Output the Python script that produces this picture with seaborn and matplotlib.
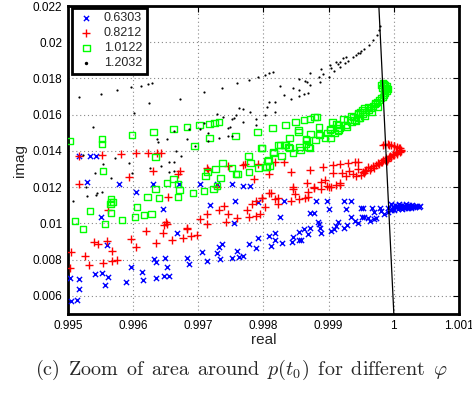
import matplotlib
matplotlib.use("Agg")
import matplotlib.pyplot as plt
import seaborn as sns
import numpy as np

# ---------------- data ----------------
labels = ["0.6303", "0.8212", "1.0122", "1.2032"]

blue_x = [0.99517,0.99534,0.99543,0.99529,0.99578,0.99605,0.99631,0.99671,0.99703,0.99729,0.99752,0.99551,0.99646,0.9956,0.99503,0.99517,0.99542,0.99552,0.99562,0.99517,0.99557,0.99505,0.99514,0.99589,0.99597,0.99614,0.99615,0.99632,0.99635,0.99648,0.99635,0.99649,0.99652,0.99655,0.99668,0.99682,0.99686,0.99705,0.99714,0.99718,0.99728,0.99732,0.99737,0.99734,0.99751,0.9976,0.99757,0.99763,0.99769,0.99778,0.99788,0.99792,0.99792,0.99768,0.9978,0.99754,0.99831,0.9988,0.99898,0.99923,0.99934,0.99825,0.99877,0.999,0.99926,0.99949,0.99951,0.99934,0.9994,0.99945,0.99928,0.99923,0.99914,0.99911,0.99908,0.99903,0.99885,0.99886,0.99888,0.99871,0.99869,0.99862,0.99854,0.99855,0.99858,0.99845,0.99843,0.99829,0.99818,0.99817,0.99809,0.99811,0.99872,0.99883,0.99952,0.99966,0.99978,0.99991,0.99969,0.9998,0.99954,0.9996,0.99969,0.99963,0.99972,0.99985,0.99991,0.99995,
          0.99996,0.99998,0.99997,1.00002,1.00003,1.00001,1.00008,1.00009,1.00007,1.00013,1.00014,1.00012,1.00018,1.00019,1.00017,1.00023,1.00024,1.00022,1.00028,1.00029,1.00027,1.00032,1.00033,1.00036,1.00038,1.0004,1.00005,1.00016,1.00026,1.00011]
blue_y = [0.01372,0.01372,0.01372,0.01229,0.01218,0.01174,0.01218,0.01218,0.01218,0.01218,0.01218,0.01036,0.0108,0.00881,0.0070,0.00694,0.00721,0.00727,0.00705,0.00639,0.00661,0.00572,0.00578,0.00677,0.0076,0.00732,0.00688,0.00804,0.00788,0.0071,0.0070,0.0081,0.0076,0.0071,0.00948,0.0081,0.00777,0.00843,0.00793,0.01102,0.00837,0.0087,0.00887,0.00804,0.0081,0.00848,0.01124,0.00815,0.00821,0.00887,0.00865,0.0092,0.01119,0.01207,0.01207,0.01003,0.01124,0.01124,0.01124,0.01124,0.01124,0.01036,0.01058,0.0108,0.0108,0.01086,0.01036,0.01036,0.01014,0.01003,0.00992,0.00975,0.01008,0.00986,0.0097,0.00959,0.00997,0.00975,0.00948,0.00975,0.00942,0.0097,0.00953,0.00909,0.00909,0.00925,0.00898,0.00892,0.00948,0.00909,0.00931,0.00876,0.01058,0.01008,0.01086,0.01086,0.01086,0.01086,0.01063,0.01069,0.01036,0.0103,0.01025,0.01014,0.0103,0.01053,0.01063,0.01075,
          0.01106,0.01092,0.01078,0.01104,0.01089,0.01076,0.01107,0.01094,0.01081,0.01102,0.01088,0.01079,0.01106,0.01093,0.01083,0.01101,0.01089,0.01084,0.01104,0.01092,0.01086,0.01099,0.01091,0.01096,0.01093,0.01097,0.01098,0.01097,0.01096,0.01085]

red_x = [0.99517,0.99552,0.99582,0.99605,0.99623,0.99637,0.99643,0.99517,0.99594,0.99631,0.99672,0.99669,0.99654,0.99715,0.99729,0.99745,0.99714,0.99769,0.99791,0.99785,0.99771,0.99809,0.99818,0.99831,0.99842,0.99871,0.99891,0.99906,0.99918,0.99929,0.9994,0.99945,0.99866,0.99877,0.99888,0.99895,0.99898,0.99903,0.99918,0.99906,0.9992,0.99931,0.99945,0.99952,0.99954,0.9996,0.99963,0.99969,0.99975,0.9998,0.99983,0.99988,0.99992,0.99998,1.00005,1.00011,1.00008,1.0,0.99992,
         0.99972,0.99977,0.99982,0.99986,0.99991,0.99995,1.0,1.00005,1.00009,1.00011,1.00009,1.00005,1.0,0.99995,0.99991,0.99986,0.99983,0.99998,1.00003,0.99994,0.99989,0.99965,0.99968,0.99958,0.99955,0.99949,0.99942,0.99937,0.99926,
         0.99562,0.9954,0.99546,0.9956,0.99568,0.99505,0.99526,0.99532,0.99503,0.99554,0.99568,0.99575,0.99597,0.99605,0.9962,0.99635,0.99648,0.99646,0.99651,0.99652,0.9966,0.99677,0.99682,0.99689,0.99698,0.99702,0.99714,0.99714,0.99731,0.9974,0.99745,0.99742,0.9976,0.99683,0.99775,0.99777,0.99783,0.99788,0.99789,0.99794,0.99797,0.99809,0.99818,0.99823,0.99802,0.99846,0.99848,0.99842,0.99854,0.99863,0.99869,0.99868,0.99878,0.99888,0.999,0.99912,0.99918,0.99811,0.99822,0.99845,0.99798]
red_y = [0.01372,0.01378,0.01383,0.01389,0.01389,0.01389,0.01389,0.01218,0.01257,0.0129,0.0129,0.01273,0.01146,0.01295,0.01201,0.01317,0.01306,0.01323,0.01328,0.01245,0.01328,0.01273,0.01339,0.01339,0.01284,0.01295,0.01312,0.01323,0.01328,0.01334,0.01339,0.01339,0.01223,0.01196,0.01229,0.0124,0.01207,0.01201,0.01223,0.01279,0.01279,0.0129,0.013,0.01284,0.01279,0.01312,0.01295,0.01306,0.01334,0.01339,0.0135,0.01361,0.01367,0.01378,0.01389,0.014,0.01417,0.01428,0.01433,
         0.01323,0.01328,0.01339,0.0135,0.01356,0.01367,0.01378,0.01383,0.01394,0.01406,0.01417,0.01422,0.01428,0.01433,0.01439,0.01439,0.01433,0.01383,0.01394,0.01372,0.01345,0.01306,0.01317,0.01295,0.0129,0.01268,0.01262,0.01273,0.01262,
         0.01074,0.00898,0.00887,0.00903,0.00848,0.00843,0.00821,0.00771,0.00754,0.00782,0.00793,0.00799,0.00914,0.0087,0.00959,0.00892,0.00992,0.00948,0.01008,0.00997,0.00909,0.0092,0.0097,0.00931,0.00937,0.01025,0.01053,0.00997,0.01074,0.01097,0.01053,0.01008,0.0103,0.00975,0.01074,0.01036,0.01108,0.01124,0.01041,0.01053,0.01141,0.01168,0.01135,0.01108,0.01091,0.0119,0.01163,0.01124,0.01135,0.01141,0.01174,0.01146,0.01201,0.0119,0.01201,0.01212,0.01212,0.01168,0.01141,0.01201,0.01141]

green_x = [0.99503,0.99552,0.99552,0.99554,0.99598,0.99631,0.99634,0.99662,0.99683,0.99702,0.99717,0.99725,0.99732,0.99717,0.99694,0.99737,0.99726,0.99714,0.99711,0.99734,0.99752,0.99758,0.99652,0.99662,0.99669,0.99671,0.99692,0.99709,0.99723,0.99729,0.99634,0.99622,0.99566,0.9964,0.99511,0.99523,0.99534,0.99557,0.99565,0.99566,0.99569,0.99566,0.99583,0.99603,0.99606,0.99617,0.99628,0.99669,
           0.99814,0.99834,0.99849,0.99862,0.99871,0.99878,0.99882,0.99854,0.9984,0.99865,0.99872,0.99885,0.99886,0.99894,0.99906,0.99912,0.99917,0.99923,0.99929,0.99934,0.99945,0.99948,0.99951,0.99926,0.99935,0.99942,0.99948,0.99898,0.99903,0.99909,0.99914,0.9988,0.99871,0.99865,0.99855,0.99845,0.99834,0.99825,0.9984,0.99828,0.99815,0.99806,0.99803,0.99809,0.99798,
           0.99757,0.99791,0.99797,0.99777,0.9978,0.99778,0.9976,0.99792,0.99805,0.99808,0.99815,0.99823,0.99832,0.99838,0.99857,0.99869,0.99854,0.99866,0.99885,0.99903,0.99902,0.99914,0.99915,0.99928,0.99938,0.99945,0.99954,0.9996,0.99968,0.99972,0.99977,0.99983,0.99986,0.99988,0.99986,0.99985,
           0.99957,0.99962,0.99965,0.99971,0.99974,0.9998,0.99985,0.99989,0.99991,0.99989,0.99983,0.9998,0.99982,0.99985,0.99975,0.99966,0.99955,0.99952,0.99946,0.9994]
green_y = [0.01455,0.01466,0.01439,0.0129,0.01488,0.01505,0.01367,0.01521,0.01532,0.01543,0.01549,0.01554,0.0156,0.01472,0.01428,0.01334,0.013,0.01284,0.01262,0.01251,0.01306,0.01273,0.01223,0.01245,0.01218,0.01185,0.01168,0.01179,0.0119,0.01207,0.0119,0.01146,0.01135,0.01141,0.01014,0.0097,0.01069,0.00997,0.01108,0.01119,0.01119,0.01058,0.0102,0.01036,0.01091,0.01047,0.01053,0.01146,
           0.01527,0.01543,0.0156,0.01571,0.01577,0.01588,0.01588,0.01516,0.01472,0.01466,0.01494,0.01532,0.01488,0.01472,0.0156,0.01549,0.01527,0.01577,0.01571,0.01593,0.01604,0.01615,0.01626,0.01543,0.0156,0.01566,0.01582,0.01499,0.01521,0.01499,0.0151,0.01461,0.01417,0.01439,0.01422,0.01389,0.01433,0.01433,0.01417,0.01372,0.01389,0.01345,0.01312,0.01317,0.01417,
           0.01483,0.01505,0.01417,0.01372,0.01334,0.01284,0.01273,0.01306,0.01312,0.0135,0.01394,0.01433,0.01433,0.01422,0.01406,0.01422,0.01505,0.01461,0.01494,0.01472,0.01516,0.01543,0.01516,0.01532,0.01588,0.0161,0.01637,0.01643,0.01648,0.01665,0.01681,0.01698,0.0172,0.01748,0.01764,0.0177,
           0.01615,0.01626,0.01637,0.0166,0.0167,0.01692,0.01709,0.01731,0.01742,0.01759,0.01775,0.01764,0.01748,0.01737,0.01643,0.01615,0.01593,0.01604,0.01582,0.01571]

black_x = [0.99517,0.99551,0.99575,0.99597,0.99612,0.99623,0.99629,0.99625,0.99672,0.99709,0.99737,0.9976,0.99538,0.99602,0.99637,0.99662,0.99683,0.99715,0.99731,0.99745,0.99751,0.99754,0.99758,0.99523,0.99554,0.99566,0.99542,0.99528,0.99545,0.99552,0.99508,0.99572,0.99594,0.99598,0.99626,0.99643,0.99655,0.99663,0.99674,0.99638,0.99685,0.99703,0.99728,0.99738,0.99749,0.99762,0.99777,0.99792,0.99769,0.9978,0.99789,0.99752,0.99769,0.99709,0.99715,0.99745,0.99652,0.99695,0.99666,0.99663,0.99655,0.99789,0.99803,0.99809,0.99815,0.99826,0.99832,0.99818,0.99808,0.99806,0.99802,0.99817,0.99842,0.99846,0.99854,0.99854,0.99854,0.99862,0.99868,0.99863,0.99866,0.99871,0.99872,0.99885,0.99886,0.99888,0.99892,0.999,0.99902,0.99903,0.99908,0.99911,0.99914,0.99918,0.99925,0.99929,0.99917,0.99937,0.99942,0.99948,0.99949,0.99922,0.99926,0.99945,0.99954,0.99962,0.99968,0.99974,0.99977,0.99978,0.99529,0.99543]
black_y = [0.01698,0.01714,0.01737,0.01753,0.01759,0.0177,0.01775,0.01665,0.01687,0.01726,0.01748,0.01775,0.01532,0.0161,0.01466,0.0151,0.01466,0.01455,0.01472,0.01527,0.01483,0.01582,0.01599,0.01378,0.01328,0.01251,0.01279,0.01201,0.01168,0.01174,0.01124,0.01361,0.01334,0.01279,0.01306,0.01317,0.01339,0.01339,0.01372,0.0145,0.01521,0.01521,0.01604,0.01588,0.01532,0.01637,0.01792,0.01808,0.01632,0.01615,0.01577,0.01577,0.0156,0.01554,0.01499,0.01483,0.01466,0.01428,0.014,0.0129,0.01284,0.01543,0.01819,0.0183,0.01836,0.01759,0.01709,0.0167,0.0167,0.01643,0.01599,0.01615,0.01687,0.01748,0.01797,0.01737,0.01703,0.01714,0.0172,0.01786,0.01781,0.01764,0.0183,0.01808,0.01781,0.01852,0.01825,0.01808,0.01874,0.01858,0.01841,0.01891,0.0188,0.01863,0.01886,0.01897,0.01891,0.01919,0.0193,0.01941,0.01952,0.01913,0.01919,0.01941,0.01963,0.01985,0.02012,0.0204,0.02068,0.0209,0.01152,0.01157]

line_x = [0.99977, 1.00000]
line_y = [0.0220, 0.0050]

xticks = [0.995, 0.996, 0.997, 0.998, 0.999, 1.0, 1.001]
xtick_labels = ["0.995", "0.996", "0.997", "0.998", "0.999", "1", "1.001"]
yticks = [0.006, 0.008, 0.010, 0.012, 0.014, 0.016, 0.018, 0.020, 0.022]
ytick_labels = ["0.006", "0.008", "0.01", "0.012", "0.014", "0.016", "0.018", "0.02", "0.022"]

caption = (r"$\mathrm{(c)\ \,Zoom\ \,of\ \,area\ \,around\ \,}p(t_0)"
           r"\mathrm{\ \,for\ \,different\ \,}\varphi$")

# ---------------- style ----------------
sns.set_theme(style="white")
plt.rcParams["font.family"] = ["Liberation Sans", "DejaVu Sans"]
plt.rcParams["mathtext.fontset"] = "cm"

fig = plt.figure(figsize=(4.72, 3.96), dpi=100)
ax = fig.add_axes([0.144, 0.207, 0.8285, 0.7778])

sns.scatterplot(x=blue_x, y=blue_y, marker="x", color="#0000ff", s=14,
                linewidth=1.0, ax=ax, label=labels[0], zorder=3)
sns.scatterplot(x=red_x, y=red_y, marker="+", color="#ff0000", s=30,
                linewidth=1.0, ax=ax, label=labels[1], zorder=3)
sns.scatterplot(x=green_x, y=green_y, marker="s", color="#00ff00", s=22,
                linewidth=1.0, ax=ax, label=labels[2], zorder=3)
ax.collections[-1].set_facecolor("none")
ax.collections[-1].set_edgecolor("#00ff00")
sns.scatterplot(x=black_x, y=black_y, marker="o", color="black", s=2.5,
                linewidth=0, ax=ax, label=labels[3], zorder=3)
sns.lineplot(x=line_x, y=line_y, color="black", linewidth=0.9, sort=False,
             estimator=None, ax=ax, zorder=4)

ax.set_xlim(0.995, 1.001)
ax.set_ylim(0.005, 0.022)
ax.set_xticks(xticks)
ax.set_xticklabels(xtick_labels)
ax.set_yticks(yticks)
ax.set_yticklabels(ytick_labels)
ax.tick_params(direction="in", top=True, right=True, length=4, width=0.8,
               labelsize=8.5, colors="black", pad=4)
ax.grid(True, linestyle=(0, (1, 2.5)), color="#888888", linewidth=0.8)
for sp in ax.spines.values():
    sp.set_linewidth(2.0)
    sp.set_color("black")

ax.set_xlabel("real", fontsize=11, labelpad=1)
ax.set_ylabel("imag", fontsize=11, labelpad=4)

leg = ax.legend(loc="upper left", bbox_to_anchor=(0.01, 0.995), borderaxespad=0,
                fontsize=9, frameon=True, fancybox=False, handletextpad=0.6,
                borderpad=0.35, labelspacing=0.25, handlelength=1.6,
                markerscale=1.0)
leg.get_frame().set_edgecolor("black")
leg.get_frame().set_linewidth(2.0)
leg.get_frame().set_alpha(1.0)
hs = leg.legend_handles
hs[3].set_sizes([6])

fig.text(0.074, 0.052, caption, fontsize=14.5, ha="left", va="baseline")

fig.savefig("out.png", dpi=100)
